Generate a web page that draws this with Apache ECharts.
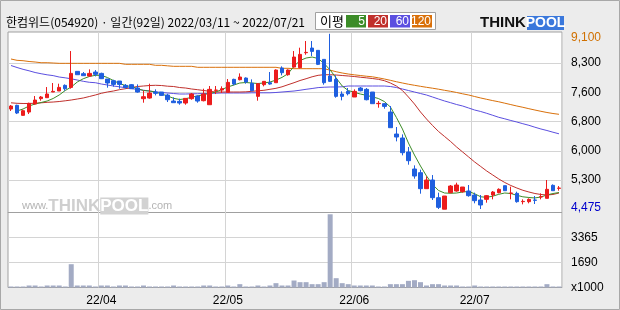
<!DOCTYPE html>
<html><head><meta charset="utf-8">
<script src="https://cdn.jsdelivr.net/npm/echarts@6/dist/echarts.min.js"></script>
<style>html,body{margin:0;padding:0;background:#ececec}#c{width:620px;height:310px}</style>
</head><body><div id="c"></div>
<script>
const titleText = '한컴위드(054920) · 일간(92일) 2022/03/11 ~ 2022/07/21';
const dates = [
'22/03/11','22/03/14','22/03/15','22/03/16','22/03/17','22/03/18','22/03/21','22/03/22','22/03/23','22/03/24','22/03/25','22/03/28','22/03/29','22/03/30','22/03/31',
'22/04/01','22/04/04','22/04/05','22/04/06','22/04/07','22/04/08','22/04/11','22/04/12','22/04/13','22/04/14','22/04/15','22/04/18','22/04/19','22/04/20','22/04/21','22/04/22','22/04/25','22/04/26','22/04/27','22/04/28','22/04/29',
'22/05/02','22/05/03','22/05/04','22/05/06','22/05/09','22/05/10','22/05/11','22/05/12','22/05/13','22/05/16','22/05/17','22/05/18','22/05/19','22/05/20','22/05/23','22/05/24','22/05/25','22/05/26','22/05/27','22/05/30','22/05/31',
'22/06/02','22/06/03','22/06/07','22/06/08','22/06/09','22/06/10','22/06/13','22/06/14','22/06/15','22/06/16','22/06/17','22/06/20','22/06/21','22/06/22','22/06/23','22/06/24','22/06/27','22/06/28','22/06/29','22/06/30',
'22/07/01','22/07/04','22/07/05','22/07/06','22/07/07','22/07/08','22/07/11','22/07/12','22/07/13','22/07/14','22/07/15','22/07/18','22/07/19','22/07/20','22/07/21'];
const open = [7116,7213,6949,7037,7248,7389,7415,7564,7591,7740, 7687,8109,8048,7986,8092,8056,7907,7863,7854,7740, 7758,7670,7389,7406,7564,7564,7485,7327,7318,7274, 7389,7459,7336,7230,7608,7617,7556,7898,7889,7933, 7793,7450,7758,7810,7810,8197,8021,8223,8206,8601, 8724,8663,8425,7986,7898,7512,7582,7433,7670,7635, 7564,7257,7257,7037,6457,6352,5983,5535,5438,5016, 5245,4779,4475,4911,4955,4937,4955,4849,4718,4735, 4849,4911,5095,4893,4893,4674,4674,4718,4797,4761, 5104,5025];
const close = [7195,7011,7072,7266,7353,7433,7512,7582,7687,7652, 8056,8021,7995,8056,8030,7916,7802,7766,7766,7687, 7652,7564,7441,7538,7529,7476,7362,7283,7274,7397, 7512,7327,7512,7635,7617,7652,7819,7775,7960,7828, 7599,7784,7846,7775,8144,8074,8144,8487,8557,8610, 8636,8294,7810,7846,7450,7450,7520,7582,7599,7362, 7257,7266,7186,6624,6378,5965,5754,5350,5016,5245, 4779,4524,4823,5086,5113,5060,4832,4700,4586,4832, 4928,4999,4963,4902,4674,4682,4735,4709,4805,4999, 4963,5034];
const high = [7222,7230,7099,7283,7459,7459,7696,7802,7784,7766, 8645,8109,8092,8162,8144,8074,7907,7889,7854,7775, 7775,7766,7600,7784,7635,7564,7520,7424,7389,7397, 7538,7476,7652,7723,7723,7714,7907,7916,8056,7951, 7898,7802,7846,8092,8162,8241,8162,8645,8733,8909, 8909,8663,8425,9100,8004,7582,7670,7635,7696,7670, 7564,7327,7274,7195,6642,6448,6115,5631,5517,5341, 5376,4911,4823,5113,5174,5060,5113,4911,4849,4849, 4955,5025,5095,5069,4937,4735,4761,4823,4893,5245, 5130,5086];
const low = [7064,6984,6940,6984,7230,7336,7415,7564,7591,7599, 7652,8021,7995,7969,7977,7907,7679,7705,7652,7652, 7643,7547,7283,7389,7476,7459,7301,7283,7230,7230, 7362,7283,7318,7230,7511,7538,7556,7740,7872,7784, 7582,7336,7714,7758,7810,8004,7995,8206,8188,8548, 8513,8276,7758,7828,7415,7345,7476,7433,7582,7345, 7257,7151,7125,6624,6264,5895,5649,5280,4884,5016, 4718,4480,4475,4893,4937,4911,4805,4630,4480,4647, 4735,4893,4963,4735,4647,4603,4630,4612,4735,4761, 4963,4963];
const volume = [67,67,67,134,134,67,134,134,134,67, 1561,134,134,134,67,134,134,67,134,134, 67,67,134,67,67,67,67,134,67,67, 67,67,134,134,67,67,134,67,223,67, 67,134,67,134,290,134,134,468,357,357, 223,223,357,4906,624,290,223,134,134,134, 134,67,67,223,223,223,446,490,357,134, 223,223,134,134,134,67,67,134,67,67, 67,67,67,67,67,67,67,67,67,223, 67,67];
const ma5 = [null,7064,7117,7196,7249,7288,7328,7394,7486,7604, 7697,7828,7915,7973,8005,8005,7947,7868,7789,7736, 7705,7657,7604,7591,7565,7512,7460,7399,7367,7386, 7428,7460,7499,7525,7565,7631,7697,7749,7802,7815, 7802,7789,7802,7828,7879,7950,8047,8245,8395,8461, 8487,8448,8316,8145,7934,7723,7604,7557,7512,7478, 7438,7394,7314,7170,6893,6590,6220,5904,5614,5351, 5127,4968,4902,4895,4902,4929,4942,4882,4802,4789, 4818,4868,4902,4889,4842,4802,4784,4771,4797,4850, 4889,4915];
const ma20 = [7280,7267,7262,7262,7270,7280,7293,7301,7314,7333, 7354,7380,7407,7446,7486,7531,7565,7591,7626,7652, 7683,7710,7723,7736,7742,7736,7718,7710,7683,7670, 7644,7626,7604,7583,7565,7565,7565,7565,7565,7570, 7583,7597,7610,7636,7662,7702,7757,7810,7868,7915, 7966,8005,8021,8021,8013,8000,7987,7973,7955,7939, 7921,7900,7863,7802,7723,7604,7433,7249,7038,6853, 6682,6524,6392,6260,6115,5983,5852,5720,5601,5482, 5377,5272,5179,5100,5034,4974,4929,4889,4863,4850, 4863,4902];
const ma60 = [8263,8211,8163,8124,8079,8047,8018,7997,7960,7939, 7913,7881,7847,7821,7810,7776,7750,7723,7702,7678, 7657,7631,7612,7591,7570,7552,7539,7525,7512,7512, 7517,7520,7525,7531,7533,7539,7539,7539,7539,7539, 7544,7544,7544,7544,7552,7565,7578,7591,7612,7636, 7657,7681,7691,7697,7697,7702,7723,7723,7723,7723, 7723,7723,7723,7710,7683,7644,7604,7565,7525,7486, 7433,7380,7328,7283,7235,7196,7143,7090,7051,7003, 6951,6898,6858,6814,6774,6729,6687,6637,6590,6550, 6505,6463];
const ma120 = [8435,8400,8390,8369,8356,8337,8337,8329,8321,8321, 8321,8321,8321,8321,8321,8321,8321,8321,8321,8295, 8295,8295,8295,8295,8269,8269,8255,8242,8242,8242, 8242,8216,8216,8216,8216,8216,8216,8216,8216,8216, 8216,8216,8216,8216,8216,8190,8190,8180,8180,8180, 8180,8180,8180,8140,8100,8066,8039,8018,8000,7981, 7966,7939,7908,7873,7836,7802,7770,7742,7715,7689, 7665,7639,7610,7583,7552,7517,7486,7446,7407,7372, 7338,7307,7270,7233,7196,7162,7125,7090,7056,7025, 6998,6977];
const priceTicks = ['4,475','5,300','6,000','6,800','7,600','8,300','9,100'];
const volumeTicks = ['x1000','1690','3365',''];
const maNames = ['5','20','60','120'];
const maColors = ['#3c8c28','#c0302c','#5b4fe0','#d9700a'];
const maData = [ma5, ma20, ma60, ma120];

const candles = dates.map((d, i) => [open[i], close[i], low[i], high[i]]);
const isMonthStart = i => i > 0 && dates[i].slice(3,5) !== dates[i-1].slice(3,5);
const gridLineColor = '#d4d4d4';
const axisFont = 'Liberation Sans, Arial, sans-serif';

const chart = echarts.init(document.getElementById('c'), null, {renderer: 'canvas'});
const monthLine = {show: true, interval: (i) => isMonthStart(i), lineStyle: {color: gridLineColor, width: 1}};

const legendGraphics = [
  {type:'rect', shape:{x:315.5, y:12.5, width:120, height:17}, style:{fill:'#fff', stroke:'#a0a0a0', lineWidth:1}},
  {type:'text', x:320, y:21.5, style:{text:'이평', font:'13px "Noto Sans CJK KR"', fill:'#000', textVerticalAlign:'middle'}}
];
maNames.forEach((n, k) => {
  const bx = 346 + k * 22;
  legendGraphics.push({type:'rect', shape:{x:bx, y:15, width:20, height:12.5}, style:{fill:maColors[k]}});
  legendGraphics.push({type:'text', x:bx + 19, y:21.5, style:{text:n, font:'12px ' + axisFont, fill:'#fff', textAlign:'right', textVerticalAlign:'middle'}});
});

const option = {
  animation: false,
  backgroundColor: '#ececec',
  grid: [
    {left:8, top:32, width:554, height:181, show:true, backgroundColor:'#fff', borderColor:'#a0a0a0', borderWidth:1},
    {left:8, top:33.75, width:554, height:175.5},
    {left:8, top:212.5, width:554, height:75, show:true, backgroundColor:'#fff', borderColor:'#a0a0a0', borderWidth:1},
    {left:8, top:212.5, width:554, height:75}
  ],
  xAxis: [
    {type:'category', gridIndex:0, data:dates, boundaryGap:true, axisLine:{show:false}, axisTick:{show:false}, axisLabel:{show:false}, splitLine:monthLine},
    {type:'category', gridIndex:1, data:dates, show:false},
    {type:'category', gridIndex:2, data:dates, boundaryGap:true, axisLine:{show:false}, axisTick:{show:false},
      axisLabel:{show:true, interval:(i) => isMonthStart(i), formatter:(v) => v.slice(0,5), color:'#000', fontSize:12, fontFamily:axisFont, margin:7},
      splitLine:monthLine},
    {type:'category', gridIndex:3, data:dates, show:false}
  ],
  yAxis: [
    {type:'value', gridIndex:0, min:4375, max:9147, show:false},
    {type:'category', gridIndex:1, data:priceTicks, boundaryGap:false, position:'right',
      axisLine:{show:false}, axisTick:{show:false},
      axisLabel:{interval:0, margin:9, fontSize:12, fontFamily:axisFont, color:'#000',
        formatter:(v, i) => i === priceTicks.length - 1 ? '{mx|' + v + '}' : (i === 0 ? '{mn|' + v + '}' : v),
        rich:{mx:{color:'#d07000', fontSize:12, fontFamily:axisFont, padding:[8,0,0,0]},
              mn:{color:'#0000cc', fontSize:12, fontFamily:axisFont, padding:[0,0,4,0]}}},
      splitLine:{show:true, interval:(i) => i > 0 && i < priceTicks.length - 1, lineStyle:{color:gridLineColor, width:1}}},
    {type:'value', gridIndex:2, min:0, max:5025, show:false},
    {type:'category', gridIndex:3, data:volumeTicks, boundaryGap:false, position:'right',
      axisLine:{show:false}, axisTick:{show:false},
      axisLabel:{interval:0, margin:9, fontSize:12, fontFamily:axisFont, color:'#000'},
      splitLine:{show:true, interval:(i) => i > 0 && i < volumeTicks.length - 1, lineStyle:{color:gridLineColor, width:1}}}
  ],
  series: [
    ...maData.slice().reverse().map((d, k) => ({
      type:'line', xAxisIndex:0, yAxisIndex:0, data:d, symbol:'none', z:2,
      lineStyle:{color:maColors[3-k], width:1}, silent:true
    })),
    {type:'candlestick', xAxisIndex:0, yAxisIndex:0, data:candles, barWidth:4, z:3,
      itemStyle:{color:'#ec1c1c', color0:'#1f5fdf', borderColor:'#ec1c1c', borderColor0:'#1f5fdf', borderWidth:1}},
    {type:'bar', xAxisIndex:2, yAxisIndex:2, data:volume, barWidth:5, itemStyle:{color:'#a3abc4'}}
  ],
  graphic: [
    {type:'rect', shape:{x:0.5, y:0.5, width:619, height:309}, style:{fill:'none', stroke:'#a8a8a8', lineWidth:1}, z:10},
    {type:'text', x:6, y:22.5, style:{text:titleText, font:'12px "Noto Sans CJK KR"', fill:'#000', textVerticalAlign:'middle'}},
    ...legendGraphics,
    {type:'text', x:480, y:23, style:{text:'THINK', font:'bold 15px ' + axisFont, fill:'#111', textVerticalAlign:'middle'}},
    {type:'rect', shape:{x:527, y:16, width:37, height:14}, style:{fill:'#3a78dc'}},
    {type:'text', x:545.5, y:23.5, style:{text:'POOL', font:'bold 14px ' + axisFont, fill:'#fff', textAlign:'center', textVerticalAlign:'middle'}},
    {type:'text', x:22, y:206, z:1, style:{text:'{a|www.}{b|THINK}{c|POOL}{a|.com}', textVerticalAlign:'middle',
      rich:{a:{font:'11px ' + axisFont, fill:'#b4b4b4'}, b:{font:'bold 17px ' + axisFont, fill:'#cfcfcf'}, c:{font:'bold 17px ' + axisFont, fill:'#fff', backgroundColor:'#d2d2d2'}}}}
  ]
};
chart.setOption(option);
</script>
</body></html>
